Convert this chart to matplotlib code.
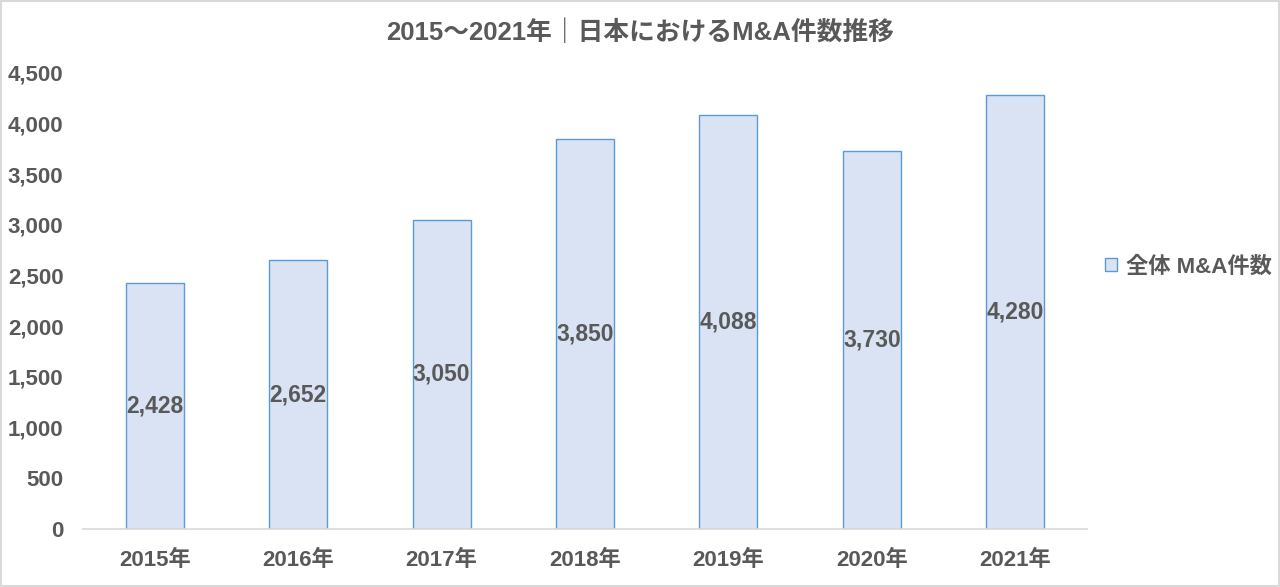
import matplotlib.pyplot as plt
from matplotlib.patches import Rectangle

# Arial-like digits, CJK glyphs from Noto
plt.rcParams["font.family"] = ["Liberation Sans", "Noto Sans CJK JP", "DejaVu Sans"]

years = ["2015年", "2016年", "2017年", "2018年", "2019年", "2020年", "2021年"]
counts = [2428, 2652, 3050, 3850, 4088, 3730, 4280]
yticks = [0, 500, 1000, 1500, 2000, 2500, 3000, 3500, 4000, 4500]

text_color = "#595959"
face = "#DAE3F3"
edge = "#5B9BD5"

fig = plt.figure(figsize=(12.8, 5.87), dpi=100)
ax = fig.add_axes([83 / 1280, 58 / 587, (1087 - 83) / 1280, (529 - 73) / 587])

# light border around the whole picture
fig.patches.append(
    Rectangle((0.001, 0.001), 0.998, 0.997, transform=fig.transFigure,
              fill=False, edgecolor="#D9D9D9", linewidth=1.5)
)

x = list(range(len(years)))
bars = ax.bar(x, counts, width=0.405, color=face, edgecolor=edge,
              linewidth=1.0, label="全体 M&A件数", zorder=2)

# value labels in the middle of each bar
for xi, v in zip(x, counts):
    ax.text(xi, v / 2, f"{v:,}", ha="center", va="center",
            fontsize=16.5, fontweight="bold", color=text_color)

ax.set_xlim(-0.5, len(years) - 0.5)
ax.set_ylim(0, 4500)
ax.set_yticks(yticks)
ax.set_yticklabels([f"{t:,}" for t in yticks])
ax.set_xticks(x)
ax.set_xticklabels(years)
ax.tick_params(axis="both", length=0, labelsize=16, colors=text_color)
ax.tick_params(axis="x", pad=15)
ax.tick_params(axis="y", pad=14)
for lab in ax.get_xticklabels() + ax.get_yticklabels():
    lab.set_fontweight("bold")

for s in ["top", "right", "left"]:
    ax.spines[s].set_visible(False)
ax.spines["bottom"].set_color("#D9D9D9")
ax.spines["bottom"].set_linewidth(1.2)

fig.text(0.5, 0.945, "2015～2021年｜日本におけるM&A件数推移", ha="center",
         va="center", fontsize=18.5, fontweight="bold", color=text_color)

leg = fig.legend(handles=[bars], loc="center left",
                 bbox_to_anchor=(1085 / 1280, 320 / 587), frameon=False,
                 handlelength=0.55, handleheight=0.55, handletextpad=0.4,
                 prop={"size": 16, "weight": "bold"})
for t in leg.get_texts():
    t.set_color(text_color)

fig.savefig("out.png", dpi=100)
